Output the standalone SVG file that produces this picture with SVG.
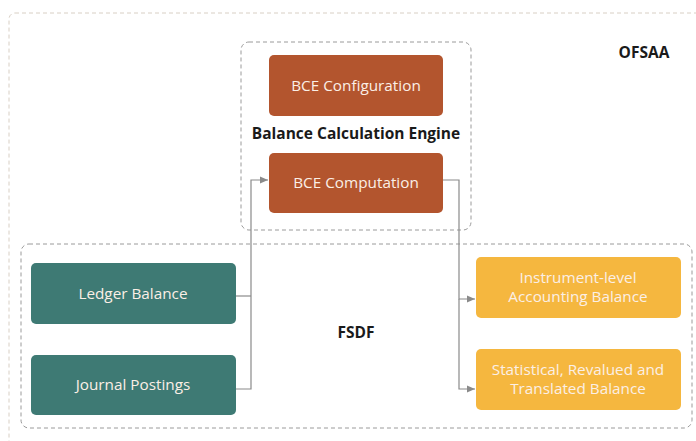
<svg xmlns="http://www.w3.org/2000/svg" width="696" height="441" viewBox="0 0 696 441">
<defs>
<style>
.lbl{font-family:"Open Sans","Noto Sans",sans-serif;font-size:15.3px;fill:#fbefe6;text-anchor:middle}
.ttl{font-family:"Open Sans","Noto Sans",sans-serif;font-size:15.5px;font-weight:bold;fill:#1a1a1a;text-anchor:middle}
.rust{fill:#b3552e}
.teal{fill:#3e7a74}
.gold{fill:#f5b73f}
.grp{fill:none;stroke:#9a9a9a;stroke-width:1;stroke-dasharray:4 3}
.conn{fill:none;stroke:#8a8a8a;stroke-width:1.2}
</style>
<marker id="ah" viewBox="0 0 8 8" refX="8" refY="4" markerWidth="8" markerHeight="8" markerUnits="userSpaceOnUse" orient="auto">
<path d="M0,0.5 L8,4 L0,7.5 z" fill="#8a8a8a"/>
</marker>
</defs>
<rect width="696" height="441" fill="#ffffff"/>
<g id="ofsaa">
<rect x="9" y="13" width="700" height="440" rx="6" fill="none" stroke="#d8cfc4" stroke-width="1" stroke-dasharray="4 3"/>
<text class="ttl" x="644" y="58">OFSAA</text>
</g>
<g id="bce">
<rect class="grp" x="241" y="42" width="230" height="188" rx="8"/>
<text class="ttl" x="356" y="139">Balance Calculation Engine</text>
</g>
<g id="fsdf">
<rect class="grp" x="21" y="244" width="671" height="184" rx="8"/>
<text class="ttl" x="356" y="338">FSDF</text>
</g>
<g id="bce-config">
<rect class="rust" x="269" y="55" width="174" height="61" rx="5"/>
<text class="lbl" x="356" y="91">BCE Configuration</text>
</g>
<g id="bce-computation">
<rect class="rust" x="269" y="153" width="174" height="60" rx="5"/>
<text class="lbl" x="356" y="188">BCE Computation</text>
</g>
<g id="ledger-balance">
<rect class="teal" x="31" y="263" width="205" height="61" rx="5"/>
<text class="lbl" x="133" y="299">Ledger Balance</text>
</g>
<g id="journal-postings">
<rect class="teal" x="31" y="355" width="205" height="60" rx="5"/>
<text class="lbl" x="133" y="390">Journal Postings</text>
</g>
<g id="instrument-balance">
<rect class="gold" x="476" y="257" width="205" height="61" rx="5"/>
<text class="lbl" x="578" y="283">Instrument-level</text>
<text class="lbl" x="578" y="302">Accounting Balance</text>
</g>
<g id="statistical-balance">
<rect class="gold" x="476" y="349" width="205" height="61" rx="5"/>
<text class="lbl" x="578" y="375">Statistical, Revalued and</text>
<text class="lbl" x="578" y="394">Translated Balance</text>
</g>
<g id="connectors">
<path class="conn" d="M236,296 H251"/>
<path class="conn" d="M236,389 H251 V180 H268" marker-end="url(#ah)"/>
<path class="conn" d="M443,180 H459 V299 H475" marker-end="url(#ah)"/>
<path class="conn" d="M459,299 V389 H475" marker-end="url(#ah)"/>
</g>
</svg>
